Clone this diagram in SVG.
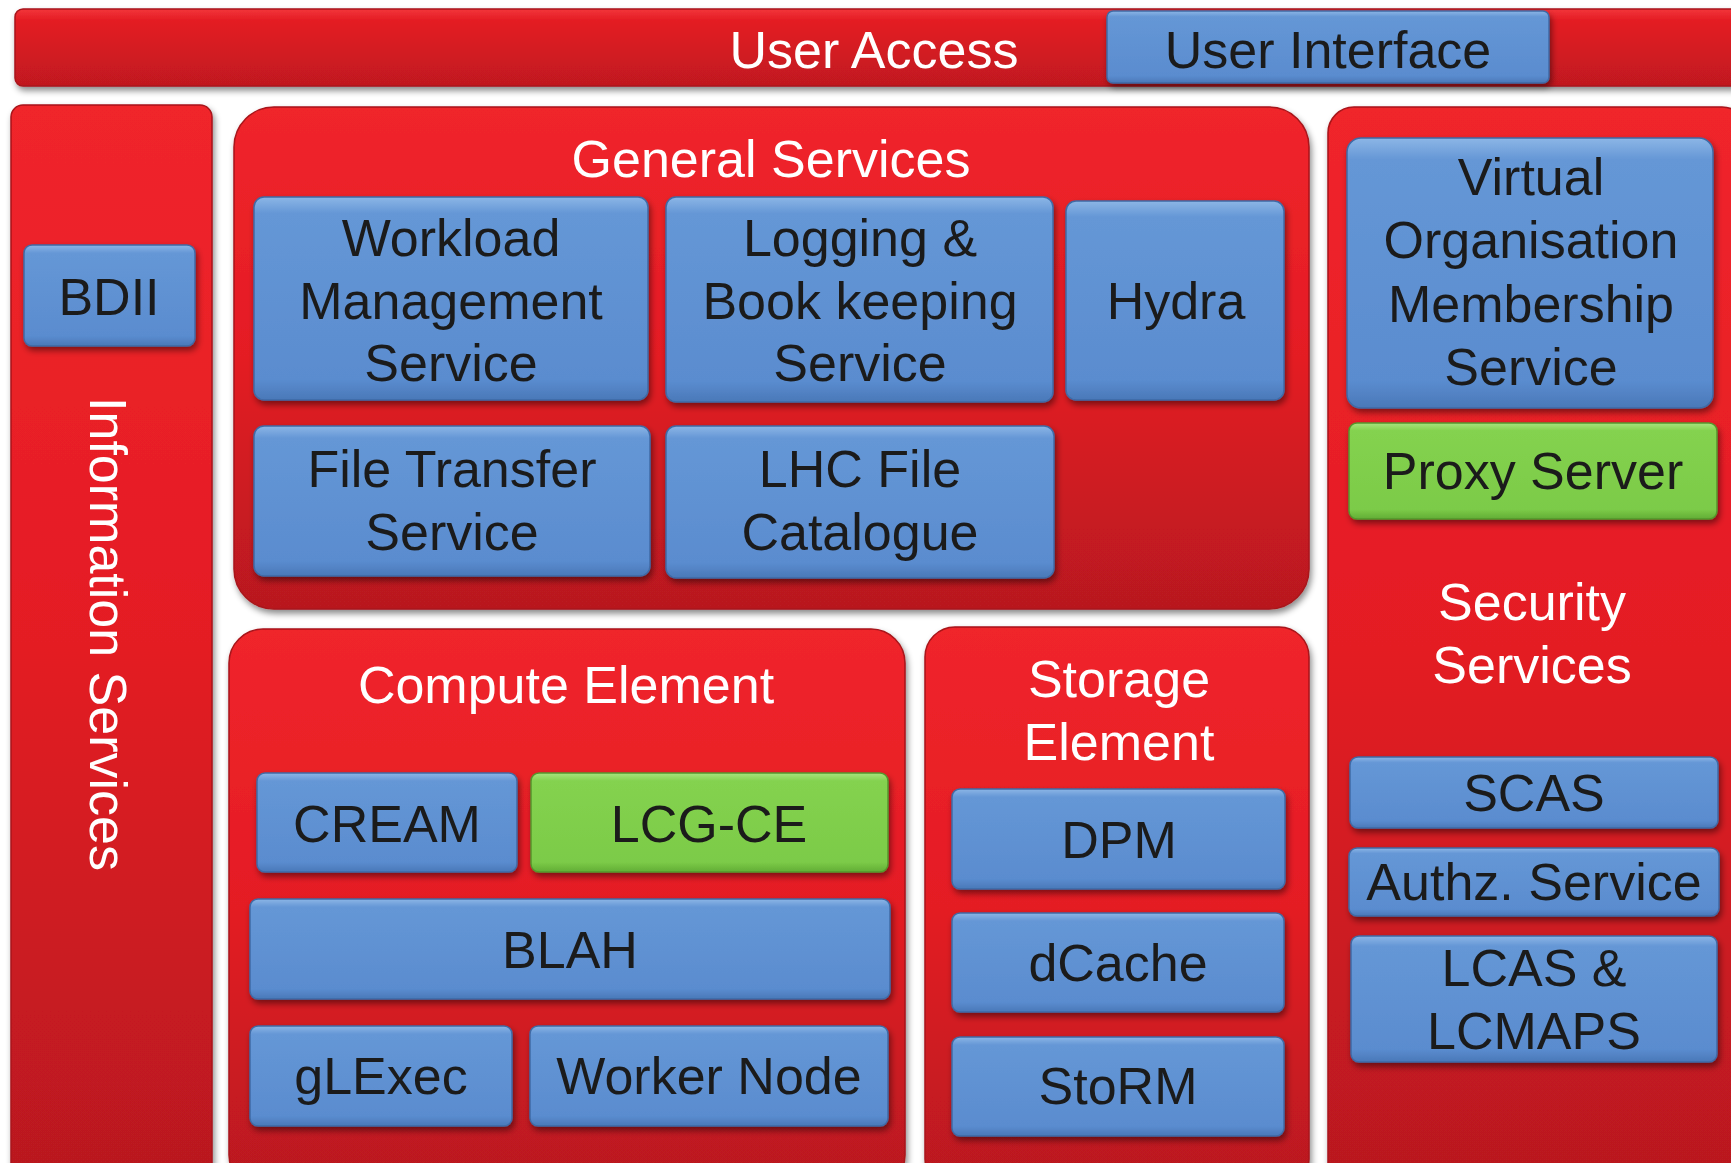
<svg xmlns="http://www.w3.org/2000/svg" width="1731" height="1163" viewBox="0 0 1731 1163">
<defs>
<linearGradient id="gRed" x1="0" y1="0" x2="0" y2="1">
<stop offset="0" stop-color="#f0252b"/>
<stop offset="0.5" stop-color="#e41c24"/>
<stop offset="1" stop-color="#b8191f"/>
</linearGradient>
<linearGradient id="gRedBar" x1="0" y1="0" x2="0" y2="1">
<stop offset="0" stop-color="#f2353a"/>
<stop offset="0.15" stop-color="#e41c24"/>
<stop offset="1" stop-color="#c0191f"/>
</linearGradient>
<linearGradient id="gBlue" x1="0" y1="0" x2="0" y2="1">
<stop offset="0" stop-color="#8cb6e6"/>
<stop offset="0.08" stop-color="#6597d6"/>
<stop offset="0.9" stop-color="#5a8ccf"/>
<stop offset="1" stop-color="#4a78b8"/>
</linearGradient>
<linearGradient id="gGreen" x1="0" y1="0" x2="0" y2="1">
<stop offset="0" stop-color="#a8e37e"/>
<stop offset="0.08" stop-color="#84d24f"/>
<stop offset="0.9" stop-color="#7ccb48"/>
<stop offset="1" stop-color="#62ad35"/>
</linearGradient>
<filter id="sh" x="-10%" y="-10%" width="120%" height="130%">
<feDropShadow dx="2" dy="4" stdDeviation="3" flood-color="#000" flood-opacity="0.45"/>
</filter>
</defs>
<style>
.panel{fill:url(#gRed);stroke:#a8141a;stroke-width:1.5;filter:url(#sh)}
.bar{fill:url(#gRedBar);stroke:#a8141a;stroke-width:1.5;filter:url(#sh)}
.blue{fill:url(#gBlue);stroke:#3f6aa5;stroke-width:1.5;filter:url(#sh)}
.green{fill:url(#gGreen);stroke:#54962c;stroke-width:1.5;filter:url(#sh)}
text{font-family:"Liberation Sans",Arial,sans-serif;font-size:52px;text-anchor:middle}
.t{fill:#1b1b1b}
.w{fill:#ffffff}
</style>
<rect width="1731" height="1163" fill="#ffffff"/>

<g id="user-access">
<rect class="bar" x="15" y="9" width="1740" height="77" rx="8"/>
<text class="w" x="874" y="68">User Access</text>
</g>
<g id="user-interface">
<rect class="blue" x="1107" y="11" width="442" height="72" rx="6"/>
<text class="t" x="1328" y="68">User Interface</text>
</g>

<g id="information-services">
<rect class="panel" x="11" y="105" width="201" height="1080" rx="12"/>
<text class="w" transform="translate(90,634) rotate(90)" x="0" y="0">Information Services</text>
</g>
<g id="bdii">
<rect class="blue" x="24" y="245" width="171" height="101" rx="8"/>
<text class="t" x="109" y="315">BDII</text>
</g>

<g id="general-services">
<rect class="panel" x="234" y="107" width="1075" height="502" rx="40"/>
<text class="w" x="771" y="177">General Services</text>
</g>
<g id="wms">
<rect class="blue" x="254" y="197" width="394" height="203" rx="10"/>
<text class="t" x="451" y="256">Workload</text>
<text class="t" x="451" y="319">Management</text>
<text class="t" x="451" y="381">Service</text>
</g>
<g id="lb">
<rect class="blue" x="666" y="197" width="387" height="205" rx="10"/>
<text class="t" x="860" y="256">Logging &amp;</text>
<text class="t" x="860" y="319">Book keeping</text>
<text class="t" x="860" y="381">Service</text>
</g>
<g id="hydra">
<rect class="blue" x="1066" y="201" width="218" height="199" rx="10"/>
<text class="t" x="1176" y="319">Hydra</text>
</g>
<g id="fts">
<rect class="blue" x="254" y="426" width="396" height="150" rx="10"/>
<text class="t" x="452" y="487">File Transfer</text>
<text class="t" x="452" y="550">Service</text>
</g>
<g id="lfc">
<rect class="blue" x="666" y="426" width="388" height="152" rx="10"/>
<text class="t" x="860" y="487">LHC File</text>
<text class="t" x="860" y="550">Catalogue</text>
</g>

<g id="compute-element">
<rect class="panel" x="229" y="629" width="676" height="560" rx="34"/>
<text class="w" x="566" y="703">Compute Element</text>
</g>
<g id="cream">
<rect class="blue" x="257" y="773" width="260" height="99" rx="8"/>
<text class="t" x="387" y="842">CREAM</text>
</g>
<g id="lcg-ce">
<rect class="green" x="531" y="773" width="357" height="99" rx="8"/>
<text class="t" x="709" y="842">LCG-CE</text>
</g>
<g id="blah">
<rect class="blue" x="250" y="899" width="640" height="100" rx="8"/>
<text class="t" x="570" y="968">BLAH</text>
</g>
<g id="glexec">
<rect class="blue" x="250" y="1026" width="262" height="100" rx="8"/>
<text class="t" x="381" y="1094">gLExec</text>
</g>
<g id="worker-node">
<rect class="blue" x="530" y="1026" width="358" height="100" rx="8"/>
<text class="t" x="709" y="1094">Worker Node</text>
</g>

<g id="storage-element">
<rect class="panel" x="925" y="627" width="384" height="562" rx="30"/>
<text class="w" x="1119" y="697">Storage</text>
<text class="w" x="1119" y="760">Element</text>
</g>
<g id="dpm">
<rect class="blue" x="952" y="789" width="333" height="100" rx="8"/>
<text class="t" x="1119" y="858">DPM</text>
</g>
<g id="dcache">
<rect class="blue" x="952" y="913" width="332" height="99" rx="8"/>
<text class="t" x="1118" y="981">dCache</text>
</g>
<g id="storm">
<rect class="blue" x="952" y="1037" width="332" height="99" rx="8"/>
<text class="t" x="1118" y="1104">StoRM</text>
</g>

<g id="security-services">
<rect class="panel" x="1328" y="107" width="420" height="1082" rx="26"/>
<text class="w" x="1532" y="620">Security</text>
<text class="w" x="1532" y="683">Services</text>
</g>
<g id="voms">
<rect class="blue" x="1347" y="138" width="366" height="270" rx="14"/>
<text class="t" x="1531" y="195">Virtual</text>
<text class="t" x="1531" y="258">Organisation</text>
<text class="t" x="1531" y="322">Membership</text>
<text class="t" x="1531" y="385">Service</text>
</g>
<g id="proxy-server">
<rect class="green" x="1349" y="423" width="368" height="96" rx="8"/>
<text class="t" x="1533" y="489">Proxy Server</text>
</g>
<g id="scas">
<rect class="blue" x="1350" y="757" width="368" height="71" rx="8"/>
<text class="t" x="1534" y="811">SCAS</text>
</g>
<g id="authz">
<rect class="blue" x="1349" y="848" width="370" height="68" rx="8"/>
<text class="t" x="1534" y="900">Authz. Service</text>
</g>
<g id="lcas-lcmaps">
<rect class="blue" x="1351" y="936" width="366" height="126" rx="8"/>
<text class="t" x="1534" y="986">LCAS &amp;</text>
<text class="t" x="1534" y="1049">LCMAPS</text>
</g>

<g id="connectors"/>
</svg>
